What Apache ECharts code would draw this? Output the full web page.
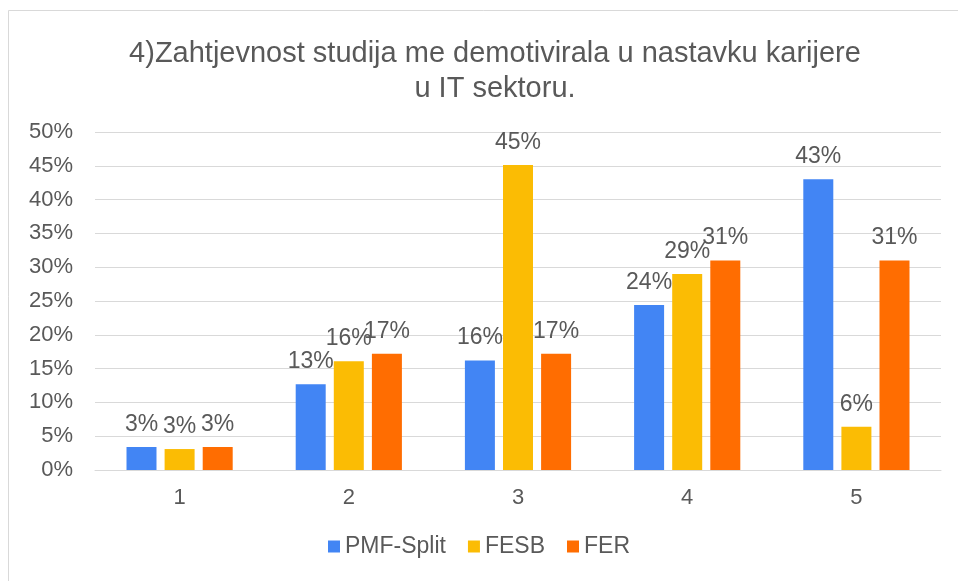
<!DOCTYPE html>
<html>
<head>
<meta charset="utf-8">
<script src="https://cdn.jsdelivr.net/npm/echarts@6/dist/echarts.min.js"></script>
<style>
  html, body { margin: 0; padding: 0; background: #fff; }
  #chart { width: 958px; height: 581px; }
</style>
</head>
<body>
<div id="chart"></div>
<script>
  var categories = ['1', '2', '3', '4', '5'];
  var pmfSplit = [3.4, 12.7, 16.2, 24.4, 43.0];
  var fesb = [3.1, 16.1, 45.1, 29.0, 6.4];
  var fer = [3.4, 17.2, 17.2, 31.0, 31.0];
  var seriesNames = ['PMF-Split', 'FESB', 'FER'];

  var textColor = '#595959';
  var fontFamily = '"Liberation Sans", Arial, sans-serif';

  function barSeries(name, data, color) {
    return {
      name: name,
      type: 'bar',
      data: data,
      barWidth: 30,
      barGap: '27%',
      itemStyle: { color: color },
      label: {
        show: true,
        position: 'top',
        distance: 11,
        color: textColor,
        fontSize: 23,
        fontFamily: fontFamily,
        formatter: function (p) { return Math.round(p.value) + '%'; }
      }
    };
  }

  var chart = echarts.init(document.getElementById('chart'));
  chart.setOption({
    backgroundColor: '#fff',
    animation: false,
    title: {
      text: '4)Zahtjevnost studija me demotivirala u nastavku karijere\nu IT sektoru.',
      left: 490,
      top: 31,
      textAlign: 'center',
      textStyle: {
        color: textColor,
        fontSize: 29,
        fontWeight: 'normal',
        fontFamily: fontFamily,
        lineHeight: 35
      }
    },
    graphic: [{
      type: 'rect',
      shape: { x: 8.5, y: 10.5, width: 1000, height: 700 },
      style: { fill: 'none', stroke: '#d9d9d9', lineWidth: 1 },
      silent: true
    }],
    legend: {
      data: seriesNames,
      bottom: 18,
      left: 'center',
      icon: 'rect',
      itemWidth: 12,
      itemHeight: 12,
      itemGap: 22,
      textStyle: { color: textColor, fontSize: 23, fontFamily: fontFamily }
    },
    grid: { left: 95, right: 17, top: 132, bottom: 111 },
    xAxis: {
      type: 'category',
      data: categories,
      axisLine: { lineStyle: { color: '#d9d9d9' } },
      axisTick: { show: false },
      axisLabel: { color: textColor, fontSize: 22, fontFamily: fontFamily, margin: 17 }
    },
    yAxis: {
      type: 'value',
      min: 0,
      max: 50,
      interval: 5,
      axisLine: { show: false },
      axisTick: { show: false },
      splitLine: { lineStyle: { color: '#d9d9d9', width: 1 } },
      axisLabel: {
        color: textColor,
        fontSize: 22,
        fontFamily: fontFamily,
        margin: 22,
        formatter: '{value}%'
      }
    },
    series: [
      barSeries(seriesNames[0], pmfSplit, '#4285F4'),
      barSeries(seriesNames[1], fesb, '#FBBC04'),
      barSeries(seriesNames[2], fer, '#FF6D01')
    ]
  });
</script>
</body>
</html>
